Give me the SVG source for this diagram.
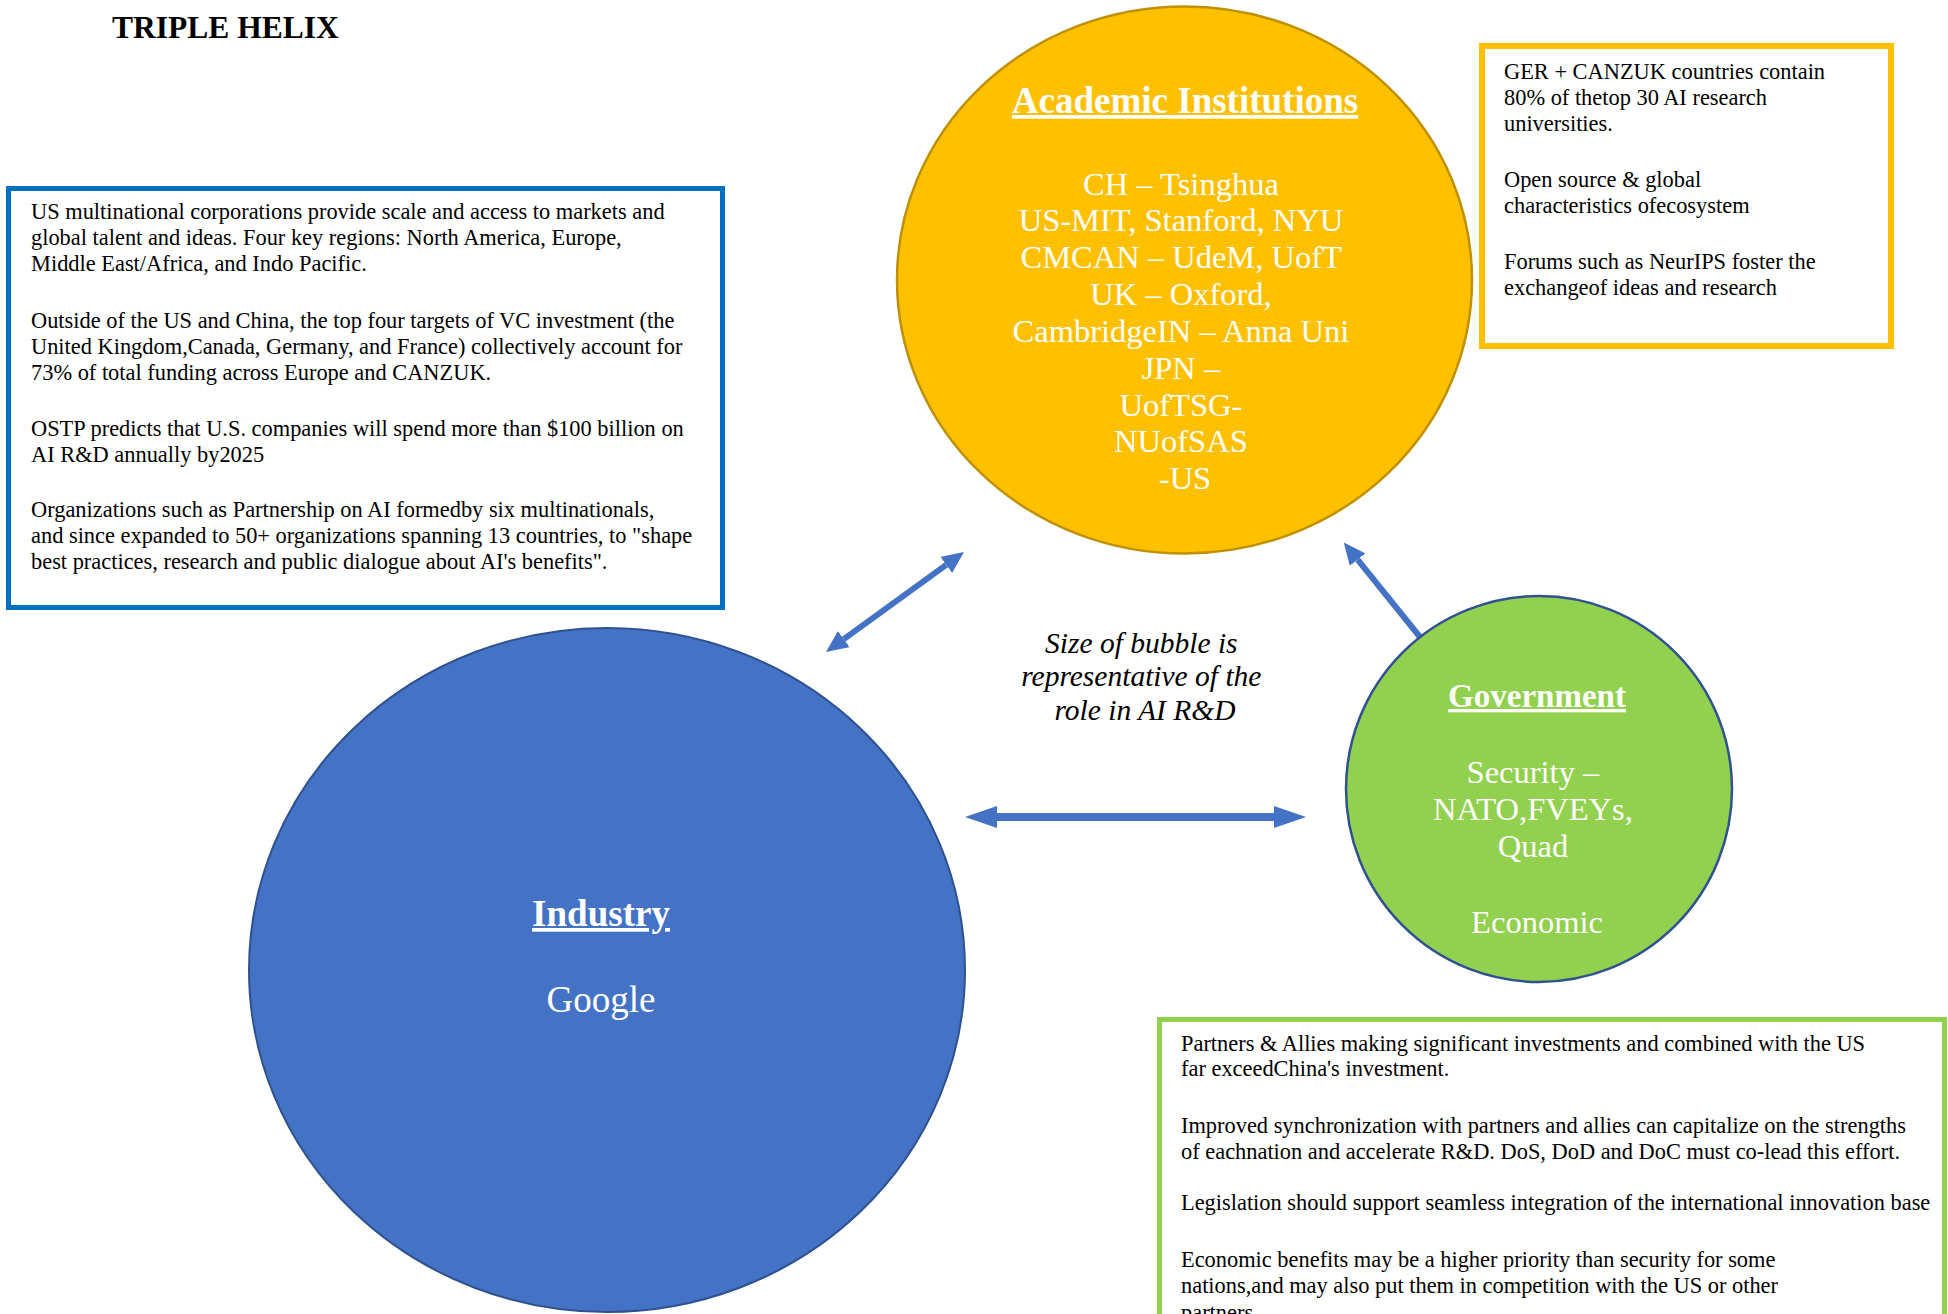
<svg xmlns="http://www.w3.org/2000/svg" width="1948" height="1314" viewBox="0 0 1948 1314">
<style>
.box{fill:#FFFFFF;}
.bt{font-family:"Liberation Serif","Times New Roman",serif;font-size:22.4px;fill:#000000;}
.ct{font-family:"Liberation Serif","Times New Roman",serif;fill:#FFFFFF;text-anchor:middle;}
.hd{font-weight:bold;text-decoration:underline;}
.conn{stroke:#4472C4;fill:none;}
</style>
<defs>
<marker id="headH" markerUnits="userSpaceOnUse" markerWidth="32" markerHeight="22" refX="0" refY="11" orient="auto-start-reverse" viewBox="0 0 32 22">
<path d="M0,0 L32,11 L0,22 z" fill="#4472C4"/>
</marker>
<marker id="headD" markerUnits="userSpaceOnUse" markerWidth="22" markerHeight="20" refX="0" refY="10" orient="auto-start-reverse" viewBox="0 0 22 20">
<path d="M0,0 L22,10 L0,20 z" fill="#4472C4"/>
</marker>
</defs>
<rect width="1948" height="1314" fill="#FFFFFF"/>

<text x="112" y="38" font-family="Liberation Serif, Times New Roman, serif" font-size="31.5" font-weight="bold" fill="#000000">TRIPLE HELIX</text>

<g id="connectors">
<line class="conn" x1="843.8" y1="639.1" x2="946.2" y2="564.9" stroke-width="6" marker-start="url(#headD)" marker-end="url(#headD)"/>
<line class="conn" x1="997" y1="817" x2="1274" y2="817" stroke-width="8" marker-start="url(#headH)" marker-end="url(#headH)"/>
<line class="conn" x1="1424" y1="642" x2="1357.6" y2="559.6" stroke-width="6" marker-end="url(#headD)"/>
</g>

<g id="industry-notes">
<rect class="box" x="8.5" y="188.5" width="714" height="419" stroke="#0070C0" stroke-width="5"/>
<text class="bt">
<tspan x="31" y="219">US multinational corporations provide scale and access to markets and</tspan>
<tspan x="31" y="245">global talent and ideas. Four key regions: North America, Europe,</tspan>
<tspan x="31" y="271">Middle East/Africa, and Indo Pacific.</tspan>
<tspan x="31" y="328">Outside of the US and China, the top four targets of VC investment (the</tspan>
<tspan x="31" y="354">United Kingdom,Canada, Germany, and France) collectively account for</tspan>
<tspan x="31" y="380">73% of total funding across Europe and CANZUK.</tspan>
<tspan x="31" y="436">OSTP predicts that U.S. companies will spend more than $100 billion on</tspan>
<tspan x="31" y="462">AI R&amp;D annually by2025</tspan>
<tspan x="31" y="517">Organizations such as Partnership on AI formedby six multinationals,</tspan>
<tspan x="31" y="543">and since expanded to 50+ organizations spanning 13 countries, to "shape</tspan>
<tspan x="31" y="569">best practices, research and public dialogue about AI's benefits".</tspan>
</text>
</g>

<g id="academic-notes">
<rect class="box" x="1482" y="46" width="409" height="300" stroke="#FFC000" stroke-width="6"/>
<text class="bt">
<tspan x="1504" y="79">GER + CANZUK countries contain</tspan>
<tspan x="1504" y="105">80% of thetop 30 AI research</tspan>
<tspan x="1504" y="131">universities.</tspan>
<tspan x="1504" y="187">Open source &amp; global</tspan>
<tspan x="1504" y="213">characteristics ofecosystem</tspan>
<tspan x="1504" y="269">Forums such as NeurIPS foster the</tspan>
<tspan x="1504" y="295">exchangeof ideas and research</tspan>
</text>
</g>

<g id="government-notes">
<rect class="box" x="1159.5" y="1019.5" width="785" height="320" stroke="#92D050" stroke-width="5"/>
<text class="bt">
<tspan x="1181" y="1051">Partners &amp; Allies making significant investments and combined with the US</tspan>
<tspan x="1181" y="1076">far exceedChina's investment.</tspan>
<tspan x="1181" y="1133">Improved synchronization with partners and allies can capitalize on the strengths</tspan>
<tspan x="1181" y="1159">of eachnation and accelerate R&amp;D. DoS, DoD and DoC must co-lead this effort.</tspan>
<tspan x="1181" y="1210">Legislation should support seamless integration of the international innovation base</tspan>
<tspan x="1181" y="1267">Economic benefits may be a higher priority than security for some</tspan>
<tspan x="1181" y="1293">nations,and may also put them in competition with the US or other</tspan>
<tspan x="1181" y="1320">partners</tspan>
</text>
</g>

<g id="academic">
<ellipse cx="1184.5" cy="280" rx="287.5" ry="273.5" fill="#FFC000" stroke="#BF9000" stroke-width="2.5"/>
<text class="ct hd" x="1185" y="113" font-size="37">Academic Institutions</text>
<text class="ct" font-size="32.5">
<tspan x="1185" y="195">CH – Tsinghua</tspan>
<tspan x="1185" y="231">US-MIT, Stanford, NYU</tspan>
<tspan x="1185" y="268">CMCAN – UdeM, UofT</tspan>
<tspan x="1185" y="305">UK – Oxford,</tspan>
<tspan x="1185" y="342">CambridgeIN – Anna Uni</tspan>
<tspan x="1185" y="379">JPN –</tspan>
<tspan x="1185" y="416">UofTSG-</tspan>
<tspan x="1185" y="452">NUofSAS</tspan>
<tspan x="1185" y="489">-US</tspan>
</text>
</g>

<g id="industry">
<ellipse cx="607" cy="970" rx="358" ry="342" fill="#4472C4" stroke="#2F528F" stroke-width="2"/>
<text class="ct hd" x="601" y="926" font-size="37">Industry</text>
<text class="ct" x="601" y="1012" font-size="37">Google</text>
</g>

<g id="government">
<circle cx="1539" cy="789" r="193" fill="#92D050" stroke="#2F528F" stroke-width="2.5"/>
<text class="ct hd" x="1537" y="707" font-size="33">Government</text>
<text class="ct" font-size="32.5">
<tspan x="1537" y="783">Security –</tspan>
<tspan x="1537" y="820">NATO,FVEYs,</tspan>
<tspan x="1537" y="857">Quad</tspan>
<tspan x="1537" y="933">Economic</tspan>
</text>
</g>

<g id="bubble-note">
<text font-family="Liberation Serif, Times New Roman, serif" font-size="29.5" font-style="italic" fill="#000000" text-anchor="middle">
<tspan x="1145" y="653">Size of bubble is</tspan>
<tspan x="1145" y="686">representative of the</tspan>
<tspan x="1145" y="720">role in AI R&amp;D</tspan>
</text>
</g>
</svg>
